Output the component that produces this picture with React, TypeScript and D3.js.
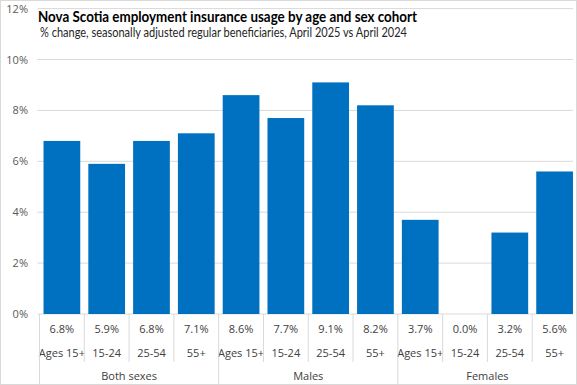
import React from "react";
import * as d3 from "d3";

const groups = ["Both sexes", "Males", "Females"];
const ages = ["Ages 15+", "15-24", "25-54", "55+"];
const values = [6.8, 5.9, 6.8, 7.1, 8.6, 7.7, 9.1, 8.2, 3.7, 0.0, 3.2, 5.6];
const yTicks = [0, 2, 4, 6, 8, 10, 12];
const title = "Nova Scotia employment insurance usage by age and sex cohort";
const subtitle = "% change, seasonally adjusted regular beneficiaries,  April 2025 vs April 2024";

export default function App() {
  const W = 577, H = 385;
  const left = 39.5, right = 577, top = 8.6, bottom = 314;
  const cats = values.map((_, i) => i);
  const x = d3.scaleBand<number>().domain(cats).range([left, right]).paddingInner(0.18).paddingOuter(0.09);
  const xb = d3.scaleBand<number>().domain(cats).range([left, right]);
  const y = d3.scaleLinear().domain([0, 12]).range([bottom, top]);
  const font = "'Open Sans', 'Noto Sans', sans-serif";
  const tfont = "Lato, 'Open Sans', sans-serif";
  const grey = "#404040";
  return (
    <svg width={W} height={H} style={{ position: "absolute", left: 0, top: 0 }}>
      <rect x={0.5} y={0.5} width={W - 1} height={H - 1} fill="#fff" stroke="#d9d9d9" />
      {yTicks.map((t) => (
        <g key={t}>
          <line x1={left - 2} x2={right - 4} y1={y(t)} y2={y(t)} stroke="#d9d9d9" strokeWidth={1} />
          <text x={28} y={y(t) + 4} textAnchor="end" fontFamily={font} fontSize={11} fill="#595959">{t}%</text>
        </g>
      ))}
      {values.map((v, i) => (
        <rect key={i} x={x(i)} y={y(v)} width={x.bandwidth()} height={bottom - y(v)} fill="#0070C0" />
      ))}
      {cats.map((i) => (
        <g key={"c" + i}>
          <text x={xb(i)! + xb.bandwidth() / 2} y={333} textAnchor="middle" fontFamily={font} fontSize={11} fill={grey}>
            {values[i].toFixed(1)}%
          </text>
          <text x={xb(i)! + xb.bandwidth() / 2} y={357} textAnchor="middle" fontFamily={font} fontSize={11} fill={grey}>
            {ages[i % 4]}
          </text>
        </g>
      ))}
      {d3.range(13).map((k) => {
        const xx = k < 12 ? xb(k)! : right - 0.5;
        const isGroup = k % 4 === 0;
        return (
          <line key={"v" + k} x1={xx} x2={xx} y1={bottom} y2={isGroup ? 384 : 362} stroke="#d9d9d9" />
        );
      })}
      {groups.map((g, gi) => {
        const x0 = xb(gi * 4)!;
        const x1 = gi * 4 + 4 < 12 ? xb(gi * 4 + 4)! : right;
        return (
          <text key={g} x={(x0 + x1) / 2} y={380} textAnchor="middle" fontFamily={font} fontSize={11} fill={grey}>{g}</text>
        );
      })}
      <text x={38} y={22} fontFamily={tfont} fontSize={16} fontWeight="bold" fill="#000" textLength={379} lengthAdjust="spacingAndGlyphs">{title}</text>
      <text x={40} y={37} fontFamily={tfont} fontSize={12.5} fill="#262626" textLength={367} lengthAdjust="spacingAndGlyphs">{subtitle}</text>
    </svg>
  );
}
